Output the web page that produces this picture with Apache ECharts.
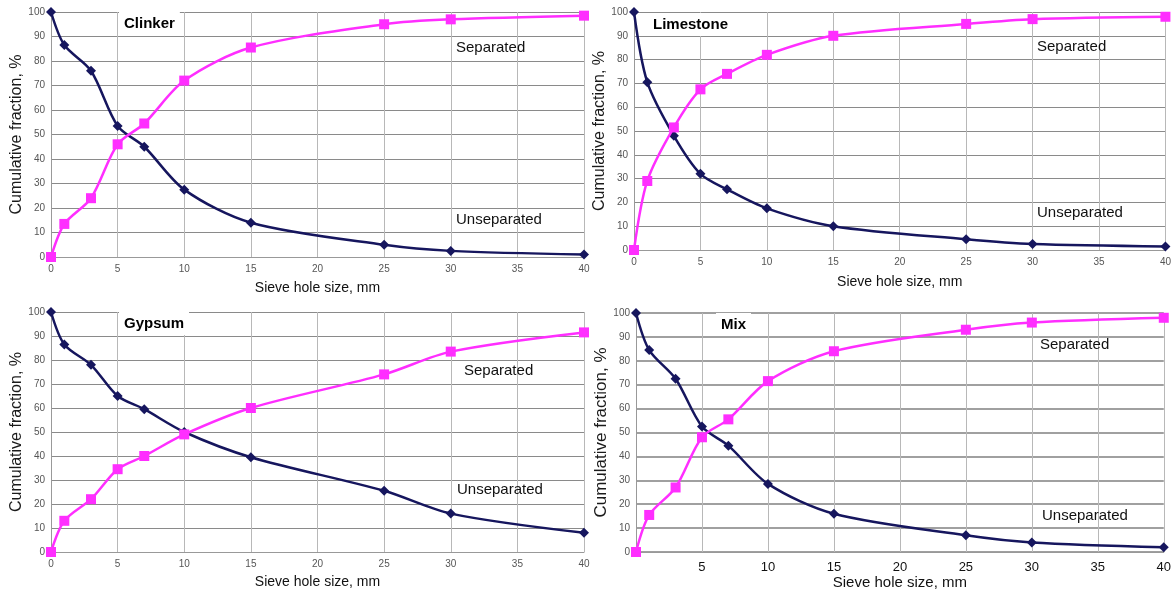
<!DOCTYPE html>
<html><head><meta charset="utf-8">
<script src="https://cdn.jsdelivr.net/npm/echarts@6/dist/echarts.min.js"></script>
<style>html,body{margin:0;padding:0;background:#fff}#c{width:1174px;height:595px}</style>
</head><body><div id="c"></div>
<script>
const sieveSizes = [0, 1, 3, 5, 7, 10, 15, 25, 30, 40];
const yTicks = [0, 10, 20, 30, 40, 50, 60, 70, 80, 90, 100];
const panelNames = ['Clinker', 'Limestone', 'Gypsum', 'Mix'];
const seriesNames = ['Unseparated', 'Separated'];
const clinkerUnsep = [100, 86.5, 76, 53.5, 45, 27.5, 14, 5, 2.5, 1];
const clinkerSep = [0, 13.5, 24, 46, 54.5, 72, 85.5, 95, 97, 98.5];
const limestoneUnsep = [100, 70.5, 48, 32, 25.5, 17.5, 10, 4.5, 2.5, 1.5];
const limestoneSep = [0, 29, 51.5, 67.5, 74, 82, 90, 95, 97, 98];
const gypsumUnsep = [100, 86.5, 78, 65, 59.5, 50, 39.5, 25.5, 16, 8];
const gypsumSep = [0, 13, 22, 34.5, 40, 49, 60, 74, 83.5, 91.5];
const mixUnsep = [100, 84.5, 72.5, 52.5, 44.5, 28.5, 16, 7, 4, 2];
const mixSep = [0, 15.5, 27, 48, 55.5, 71.5, 84, 93, 96, 98];

const panels = [
  {unsep: clinkerUnsep, sep: clinkerSep, grid: {left: 51, top: 12, width: 533, height: 245}, nameGap: 24, title: {left: 119, top: 12}, sepLbl: [456, 48], unsepLbl: [456, 220], mix: false},
  {unsep: limestoneUnsep, sep: limestoneSep, grid: {left: 634, top: 12, width: 532, height: 238}, nameGap: 25, title: {left: 648, top: 13}, sepLbl: [1037, 47], unsepLbl: [1037, 213], mix: false},
  {unsep: gypsumUnsep, sep: gypsumSep, grid: {left: 51, top: 312, width: 533, height: 240}, nameGap: 23, title: {left: 119, top: 312}, sepLbl: [464, 371], unsepLbl: [457, 490], mix: false},
  {unsep: mixUnsep, sep: mixSep, grid: {left: 636, top: 313, width: 530, height: 239}, nameGap: 22, title: {left: 716, top: 313}, sepLbl: [1040, 345], unsepLbl: [1042, 516], mix: true}
];

const FONT = "'Liberation Sans', Arial, sans-serif";
const NAVY = '#16165e';
const MAG = '#ff2eff';

const option = {
  animation: false,
  backgroundColor: '#fff',
  grid: [], xAxis: [], yAxis: [], series: [], title: [], graphic: []
};

panels.forEach((p, i) => {
  option.grid.push(Object.assign({containLabel: false}, p.grid));
  option.xAxis.push({
    type: 'value', gridIndex: i, min: 0, max: 40, interval: 5,
    name: 'Sieve hole size, mm', nameLocation: 'middle', nameGap: p.nameGap,
    nameTextStyle: {fontFamily: FONT, fontSize: p.mix ? 15 : 14, color: '#111'},
    axisLine: {show: true, lineStyle: {color: '#999', width: 1}},
    axisTick: {show: false},
    axisLabel: {fontFamily: FONT, fontSize: p.mix ? 13 : 10, color: p.mix ? '#111' : '#555', margin: p.mix ? 9 : 7, showMinLabel: !p.mix},
    splitLine: {show: true, lineStyle: {color: '#b8b8b8', width: 1}}
  });
  option.yAxis.push({
    type: 'value', gridIndex: i, min: 0, max: 100, interval: 10,
    name: 'Cumulative fraction, %', nameLocation: 'middle', nameGap: 25, nameRotate: 90,
    nameTextStyle: {fontFamily: FONT, fontSize: p.mix ? 17 : 16, color: '#1a1a1a'},
    axisLine: {show: true, lineStyle: {color: '#999', width: 1}},
    axisTick: {show: false},
    axisLabel: {fontFamily: FONT, fontSize: 10, color: '#555', margin: 6,
      formatter: v => yTicks.includes(v) ? String(v) : ''},
    splitLine: {show: true, lineStyle: {color: p.mix ? '#a0a0a0' : '#8a8a8a', width: p.mix ? 2 : 1.2}}
  });
  option.series.push({
    name: seriesNames[0], type: 'line', xAxisIndex: i, yAxisIndex: i, smooth: 0.3,
    data: sieveSizes.map((x, k) => [x, p.unsep[k]]),
    symbol: 'diamond', symbolSize: 10,
    lineStyle: {color: NAVY, width: 2.5}, itemStyle: {color: NAVY}, z: 3
  });
  option.series.push({
    name: seriesNames[1], type: 'line', xAxisIndex: i, yAxisIndex: i, smooth: 0.3,
    data: sieveSizes.map((x, k) => [x, p.sep[k]]),
    symbol: 'rect', symbolSize: 10,
    lineStyle: {color: MAG, width: 2.5}, itemStyle: {color: MAG}, z: 4
  });
  option.title.push({
    text: panelNames[i], left: p.title.left, top: p.title.top,
    backgroundColor: '#fff', padding: [4, 5, 4, 5],
    textStyle: {fontFamily: FONT, fontSize: 15, fontWeight: 'bold', color: '#000'}
  });
  option.graphic.push({
    type: 'text', x: p.sepLbl[0], y: p.sepLbl[1], z: 10,
    style: {text: seriesNames[1], fontFamily: FONT, fontSize: 15, fill: '#111', verticalAlign: 'middle'}
  });
  option.graphic.push({
    type: 'text', x: p.unsepLbl[0], y: p.unsepLbl[1], z: 10,
    style: {text: seriesNames[0], fontFamily: FONT, fontSize: 15, fill: '#111', verticalAlign: 'middle'}
  });
});

const chart = echarts.init(document.getElementById('c'), null, {renderer: 'canvas'});
chart.setOption(option);
</script></body></html>
